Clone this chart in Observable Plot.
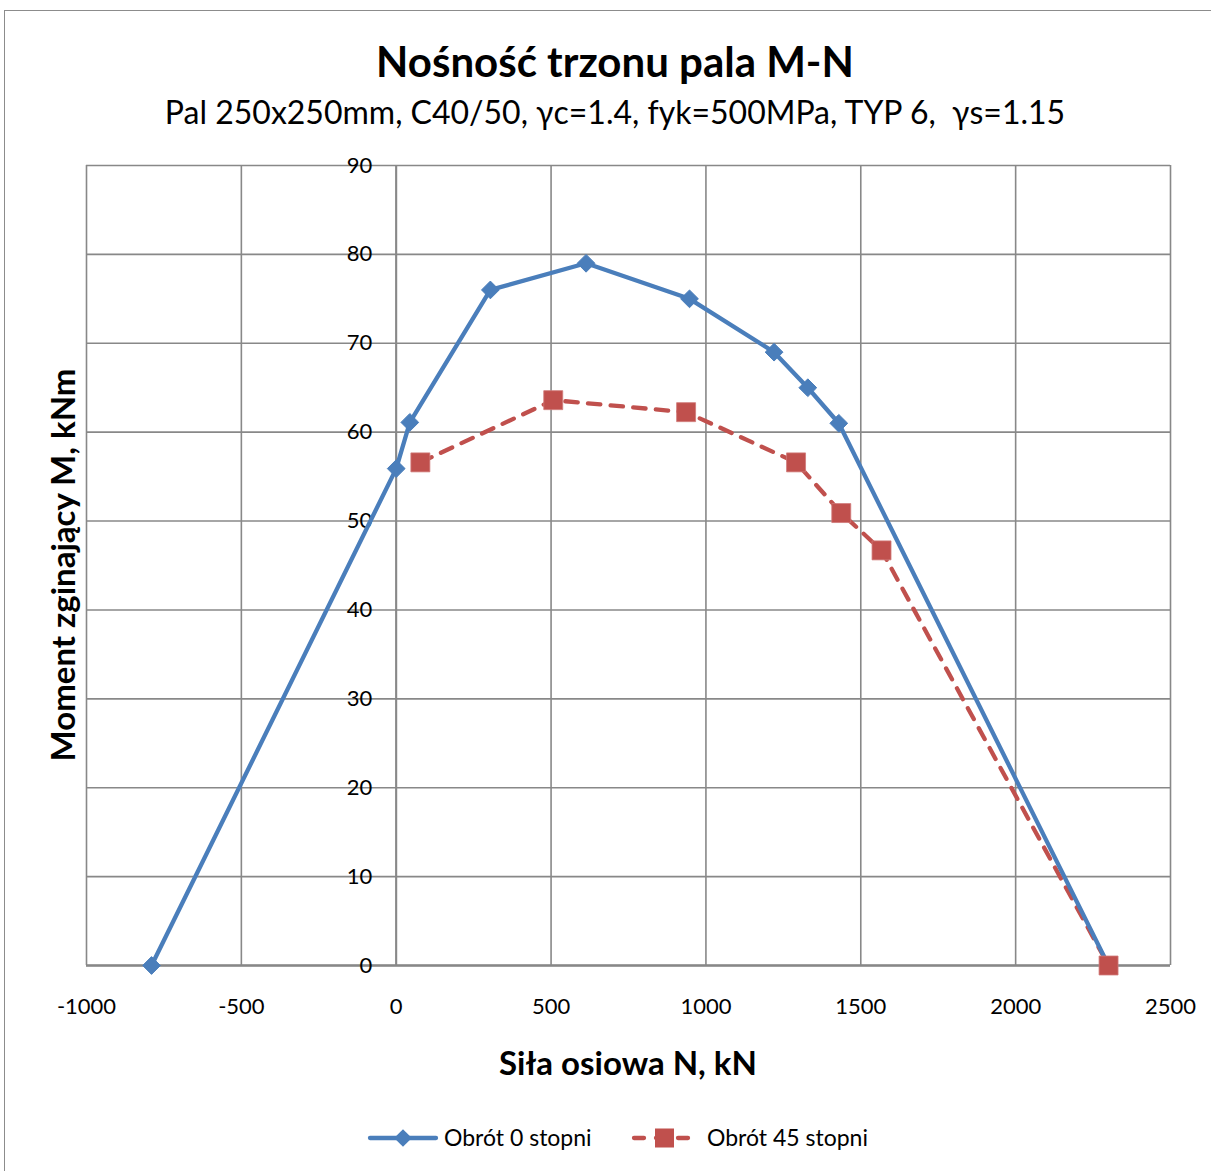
<!DOCTYPE html>
<html><head><meta charset="utf-8">
<script src="https://cdn.jsdelivr.net/npm/d3@7"></script>
<script src="https://cdn.jsdelivr.net/npm/@observablehq/plot@0.6"></script>
<style>
body{margin:0;background:#fff;}
#wrap{position:relative;width:1211px;height:1171px;overflow:hidden;font-family:Lato,"Open Sans",sans-serif;color:#000;background:#fff}
#border{position:absolute;left:4px;top:10px;width:1400px;height:1400px;border:1.5px solid #8c8c8c;box-sizing:border-box}
.t{position:absolute;white-space:nowrap;text-align:center;line-height:1.2}
#chart{position:absolute;left:0;top:0}
#legend{position:absolute;left:0;top:0}
</style></head>
<body>
<div id="wrap">
  <div id="border"></div>
  <div id="chart"></div>
  <div class="t" id="title" style="left:0;width:1230px;top:36px;font-size:42px;font-weight:700">Nośność trzonu pala M-N</div>
  <div class="t" id="sub" style="left:0;width:1230px;top:93px;font-size:32px">Pal 250x250mm, C40/50, γc=1.4, fyk=500MPa, TYP 6,&nbsp; γs=1.15</div>
  <div class="t" id="ylab" style="left:63px;top:565px;font-size:33px;font-weight:700;transform:translate(-50%,-50%) rotate(-90deg)">Moment zginający M, kNm</div>
  <div class="t" id="xlab" style="left:0;width:1256px;top:1043px;font-size:33px;font-weight:700">Siła osiowa N, kN</div>
  <svg id="legend" width="1211" height="1171"></svg>
</div>
<script>
// Data
const blueN = [-790, 0, 44, 304, 613, 947, 1220, 1329, 1429, 2300];
const blueM = [0, 55.9, 61.1, 76.0, 79.0, 75.0, 69.0, 65.0, 61.0, 0];
const redN = [78, 507, 936, 1291, 1437, 1567, 2300];
const redM = [56.6, 63.6, 62.25, 56.6, 50.9, 46.7, 0];
const xTicks = [-1000, -500, 0, 500, 1000, 1500, 2000, 2500];
const yTicks = [0, 10, 20, 30, 40, 50, 60, 70, 80, 90];
const seriesNames = ["Obrót 0 stopni", "Obrót 45 stopni"];
const colors = ["#4A7EBB", "#C0504D"];

const blue = blueN.map((n, i) => ({N: n, M: blueM[i]}));
const red = redN.map((n, i) => ({N: n, M: redM[i]}));

const grid = "#888888";
const plot = Plot.plot({
  width: 1211, height: 1171,
  marginLeft: 86, marginRight: 41, marginTop: 165, marginBottom: 206,
  style: {fontFamily: "Lato, sans-serif", fontSize: "22px", background: "transparent", overflow: "visible"},
  x: {domain: [-1000, 2500]},
  y: {domain: [0, 90], axis: null},
  marks: [
    Plot.gridX(xTicks, {stroke: grid, strokeOpacity: 1, strokeWidth: 1.6}),
    Plot.gridY(yTicks, {stroke: grid, strokeOpacity: 1, strokeWidth: 1.6}),
    Plot.ruleX([0], {stroke: grid, strokeWidth: 2}),
    Plot.ruleY([0], {stroke: grid, strokeWidth: 2.4}),
    Plot.axisX(xTicks, {tickSize: 0, tickPadding: 33, tickFormat: d => String(d), fontSize: 22, label: null}),
    Plot.text(yTicks, {x: 0, y: d => d, text: d => String(d), textAnchor: "end", dx: -24, fontSize: 22}),
    Plot.line(red, {x: "N", y: "M", stroke: colors[1], strokeWidth: 4.3, strokeDasharray: "12.4,10.3", strokeLinecap: "round"}),
    Plot.line(blue, {x: "N", y: "M", stroke: colors[0], strokeWidth: 4.3}),
    Plot.dot(blue, {x: "N", y: "M", symbol: "diamond2", r: 8, fill: colors[0], stroke: colors[0], strokeWidth: 1}),
    Plot.dot(red, {x: "N", y: "M", symbol: "square", r: 10.7, fill: colors[1], stroke: "#d07a78", strokeWidth: 0.8})
  ]
});
document.getElementById("chart").appendChild(plot);

// Legend
const lg = d3.select("#legend");
const ly = 1138;
lg.append("line").attr("x1", 370).attr("x2", 436).attr("y1", ly).attr("y2", ly)
  .attr("stroke", colors[0]).attr("stroke-width", 4.3).attr("stroke-linecap", "round");
lg.append("path").attr("d", d3.symbol(d3.symbolDiamond2, 200)()).attr("transform", `translate(403,${ly})`).attr("fill", colors[0]);
lg.append("text").attr("x", 444).attr("y", ly).attr("dy", "0.35em").attr("font-size", 23).attr("font-family", "Lato, sans-serif").text(seriesNames[0]);
lg.append("line").attr("x1", 634).attr("x2", 694).attr("y1", ly).attr("y2", ly)
  .attr("stroke", colors[1]).attr("stroke-width", 4.3).attr("stroke-linecap", "round").attr("stroke-dasharray", "10,12");
lg.append("rect").attr("x", 655).attr("y", ly - 9.5).attr("width", 19).attr("height", 19).attr("fill", colors[1]);
lg.append("text").attr("x", 707).attr("y", ly).attr("dy", "0.35em").attr("font-size", 23).attr("font-family", "Lato, sans-serif").text(seriesNames[1]);
</script>
</body></html>
